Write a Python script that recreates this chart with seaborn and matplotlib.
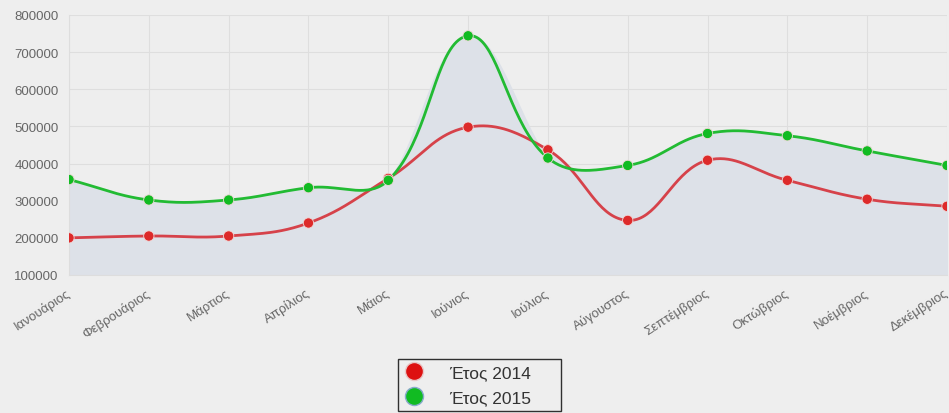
import numpy as np
import pandas as pd
import matplotlib
matplotlib.use("Agg")
import matplotlib.pyplot as plt
import seaborn as sns
from matplotlib.lines import Line2D

months = ["Ιανουάριος", "Φεβρουάριος", "Μάρτιος", "Απρίλιος", "Μάιος", "Ιούνιος",
          "Ιούλιος", "Αύγουστος", "Σεπτέμβριος", "Οκτώβριος", "Νοέμβριος", "Δεκέμβριος"]
year_2014 = [200000, 205000, 205000, 240000, 360000, 498000,
             437000, 247000, 409000, 355000, 304000, 285000]
year_2015 = [357000, 302000, 302000, 335000, 355000, 744000,
             415000, 395000, 481000, 475000, 434000, 395000]
series_names = ["Έτος 2014", "Έτος 2015"]
colors = {"Έτος 2014": "#d6424a", "Έτος 2015": "#22bb33"}
dot_colors = {"Έτος 2014": "#dd2a2a", "Έτος 2015": "#11bb22"}

# pixel-ish scale used for the curve tension (like the js chart does)
XS, YS = 80.0, 37.0 / 100000


def smooth(xs, ys, tension=0.4, n=40):
    px = np.asarray(xs, float) * XS
    py = np.asarray(ys, float) * YS
    m = len(px)
    c_in, c_out = [], []
    for i in range(m):
        p0 = max(i - 1, 0)
        p2 = min(i + 1, m - 1)
        d01 = np.hypot(px[i] - px[p0], py[i] - py[p0])
        d12 = np.hypot(px[p2] - px[i], py[p2] - py[i])
        tot = d01 + d12 if d01 + d12 > 0 else 1
        fa = tension * d01 / tot
        fb = tension * d12 / tot
        dx, dy = px[p2] - px[p0], py[p2] - py[p0]
        c_in.append((px[i] - fa * dx, py[i] - fa * dy))
        c_out.append((px[i] + fb * dx, py[i] + fb * dy))
    outx, outy = [], []
    t = np.linspace(0, 1, n)
    for i in range(m - 1):
        P0 = np.array([px[i], py[i]])
        P1 = np.array(c_out[i])
        P2 = np.array(c_in[i + 1])
        P3 = np.array([px[i + 1], py[i + 1]])
        b = ((1 - t) ** 3)[:, None] * P0 + (3 * (1 - t) ** 2 * t)[:, None] * P1 \
            + (3 * (1 - t) * t ** 2)[:, None] * P2 + (t ** 3)[:, None] * P3
        outx.extend(b[:, 0])
        outy.extend(b[:, 1])
    return np.array(outx) / XS, np.array(outy) / YS


sns.set_style("whitegrid")
plt.rcParams["font.family"] = ["Liberation Sans", "DejaVu Sans"]

fig = plt.figure(figsize=(9.49, 4.14), dpi=100, facecolor="#eeeeee")
ax = fig.add_axes([69 / 949, 1 - 276 / 414, (947 - 69) / 949, (276 - 16) / 414])
ax.set_facecolor("#eeeeee")

idx = np.arange(len(months))
df = pd.DataFrame({"idx": np.tile(idx, 2),
                   "value": year_2014 + year_2015,
                   "series": np.repeat(series_names, len(months))})

curves = []
for name, vals in zip(series_names, [year_2014, year_2015]):
    sx, sy = smooth(idx, vals)
    curves.append(pd.DataFrame({"x": sx, "y": sy, "series": name}))
curve_df = pd.concat(curves, ignore_index=True)

top = np.maximum(curves[0]["y"].values, curves[1]["y"].values)
ax.fill_between(curves[0]["x"].values, 100000, top, color="#dde1e8", zorder=1)

sns.lineplot(data=curve_df, x="x", y="y", hue="series", palette=colors,
             linewidth=2, sort=False, estimator=None, legend=False, ax=ax, zorder=3)
sns.scatterplot(data=df, x="idx", y="value", hue="series", palette=dot_colors,
                s=55, edgecolor="#f0d8d8", linewidth=0.6, legend=False, ax=ax, zorder=4)

ax.set_xlim(0, 11)
ax.set_ylim(100000, 800000)
ax.set_yticks(range(100000, 800001, 100000))
ax.set_yticklabels([str(v) for v in range(100000, 800001, 100000)])
ax.set_xticks(idx)
ax.set_xticklabels(months, rotation=33, ha="right", va="center", rotation_mode="anchor")
ax.tick_params(axis="both", colors="#666666", labelsize=9.5, length=4, width=0.8)
ax.tick_params(axis="x", pad=8)
ax.tick_params(axis="both", color="#dddddd")
ax.set_xlabel("")
ax.set_ylabel("")
ax.grid(True, color="#dedede", linewidth=0.8)
for s in ["top", "right"]:
    ax.spines[s].set_visible(False)
ax.spines["left"].set_color("#dddddd")
ax.spines["bottom"].set_color("#dddddd")

handles = [Line2D([0], [0], marker="o", linestyle="none", markersize=13,
                  markerfacecolor="#dd1111", markeredgecolor="#e8c8c8"),
           Line2D([0], [0], marker="o", linestyle="none", markersize=13,
                  markerfacecolor="#11bb22", markeredgecolor="#88aacc")]
leg = fig.legend(handles, series_names, loc="upper left", mode="expand",
                 bbox_to_anchor=(398 / 949, 0, 163 / 949, 1 - 360 / 414), frameon=True,
                 fancybox=False, facecolor="#eeeeee", edgecolor="black",
                 fontsize=12.5, handletextpad=1.4, borderpad=0.35, labelspacing=0.55,
                 handlelength=1.2, borderaxespad=0)
leg.get_frame().set_linewidth(1)
for t in leg.get_texts():
    t.set_color("#333333")

fig.savefig("out.png", dpi=100, facecolor=fig.get_facecolor())
